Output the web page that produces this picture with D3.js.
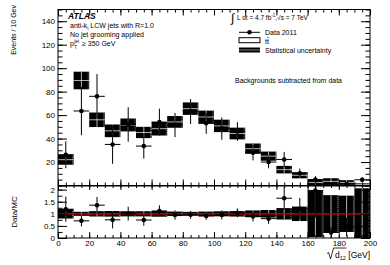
<!DOCTYPE html>
<html><head><meta charset="utf-8">
<script src="https://cdn.jsdelivr.net/npm/d3@7"></script>
<style>
body{margin:0;background:#fff}
svg{display:block}
text{font-family:"Liberation Sans",Arial,Helvetica,sans-serif;fill:#000}
</style>
</head><body>
<svg id="c" width="390" height="265"></svg>
<script>
// ---- data (sqrt(d12) bins, 10 GeV wide) ----
const binLow  = [0,10,20,30,40,50,60,70,80,90,100,110,120,130,140,150,160,170,180,190];
const mc      = [22,89.5,56,46.6,51.6,45.2,48.4,54.2,65.5,58.4,50.8,44.3,31.4,25,13.5,8.7,2.6,3.5,2.6,0.9];
const mcErr   = [4.3,7.5,6.2,5.4,5.5,4.8,5.8,5.0,5.3,5.4,5.3,5.0,4.4,3.9,3.2,2.6,2.5,2.7,1.95,0.95];
const dataVal = [26.2,63.5,76,35,52,33.6,54,51.5,63,53,48.5,46,28,20,22.2,10.5,5.1,0.8,1.2,4.9];
const dataErr = [11.5,20.6,19,16.5,14.7,10.7,11.5,10.3,10.7,9,9.5,8,6.6,5.4,6.4,3.9,2.9,0.8,1.0,2.2];
const binWidth = 10;
const xMajor = [0,20,40,60,80,100,120,140,160,180,200];
const yMajor = [0,20,40,60,80,100,120,140];
const rMajor = [0,0.5,1,1.5,2];

const svg = d3.select('#c');
const X0 = 58, X1 = 370;
const T0 = 9.5, T1 = 185.5;
const R0 = 186, R1 = 238;

const x  = d3.scaleLinear().domain([0,200]).range([X0,X1]);
const y  = d3.scaleLinear().domain([0,150]).range([T1,T0]);
const yr = d3.scaleLinear().domain([0,2.15]).range([R1,R0]);

const bins = binLow.map((lo,i)=>({lo, hi:lo+binWidth, mc:mc[i], me:mcErr[i], d:dataVal[i], de:dataErr[i]}));

const defs = svg.append('defs');
defs.append('clipPath').attr('id','clipT').append('rect').attr('x',X0).attr('y',T0).attr('width',X1-X0).attr('height',T1-T0);
defs.append('clipPath').attr('id','clipR').append('rect').attr('x',X0).attr('y',R0).attr('width',X1-X0).attr('height',R1-R0);

// ---- top panel ----
const gT = svg.append('g').attr('clip-path','url(#clipT)');
gT.selectAll('rect.band').data(bins).join('rect')
  .attr('x',d=>x(d.lo)).attr('width',d=>x(d.hi)-x(d.lo))
  .attr('y',d=>y(d.mc+d.me)).attr('height',d=>y(Math.max(0,d.mc-d.me))-y(d.mc+d.me))
  .attr('fill','#000');
gT.selectAll('line.edge').data(bins).join('line')
  .attr('x1',d=>x(d.hi)-1).attr('x2',d=>x(d.hi)-1)
  .attr('y1',d=>y(d.mc+d.me)).attr('y2',d=>y(Math.max(0,d.mc-d.me)))
  .attr('stroke','#aaa').attr('stroke-width',0.8).attr('stroke-dasharray','1,1');
gT.selectAll('line.mch').data(bins).join('line')
  .attr('x1',d=>x(d.lo)).attr('x2',d=>x(d.hi))
  .attr('y1',d=>y(d.mc)).attr('y2',d=>y(d.mc))
  .attr('stroke','#ddd').attr('stroke-width',0.8);
gT.selectAll('line.mcv').data(bins).join('line')
  .attr('x1',d=>x(d.lo+binWidth/2)).attr('x2',d=>x(d.lo+binWidth/2))
  .attr('y1',d=>y(d.mc+d.me)).attr('y2',d=>y(Math.max(0,d.mc-d.me)))
  .attr('stroke','#ddd').attr('stroke-width',0.8);
// data
gT.selectAll('line.dv').data(bins).join('line')
  .attr('x1',d=>x(d.lo+binWidth/2)).attr('x2',d=>x(d.lo+binWidth/2))
  .attr('y1',d=>y(d.d+d.de)).attr('y2',d=>y(Math.max(0,d.d-d.de)))
  .attr('stroke','#000').attr('stroke-width',1);
gT.selectAll('line.dh').data(bins).join('line')
  .attr('x1',d=>x(d.lo)).attr('x2',d=>x(d.hi))
  .attr('y1',d=>y(d.d)).attr('y2',d=>y(d.d))
  .attr('stroke','#000').attr('stroke-width',1);
gT.selectAll('circle').data(bins).join('circle')
  .attr('cx',d=>x(d.lo+binWidth/2)).attr('cy',d=>y(d.d)).attr('r',2.3).attr('fill','#000');

// ---- ratio panel ----
const gR = svg.append('g').attr('clip-path','url(#clipR)');
gR.selectAll('rect').data(bins).join('rect')
  .attr('x',d=>x(d.lo)).attr('width',d=>x(d.hi)-x(d.lo))
  .attr('y',d=>yr(1+d.me/d.mc)).attr('height',d=>yr(Math.max(0,1-d.me/d.mc))-yr(1+d.me/d.mc))
  .attr('fill','#000');
gR.selectAll('line.mcv').data(bins).join('line')
  .attr('x1',d=>x(d.lo+binWidth/2)).attr('x2',d=>x(d.lo+binWidth/2))
  .attr('y1',d=>yr(1+d.me/d.mc)).attr('y2',d=>yr(Math.max(0,1-d.me/d.mc)))
  .attr('stroke','#ddd').attr('stroke-width',0.8);
gR.selectAll('line.edge').data(bins).join('line')
  .attr('x1',d=>x(d.hi)-1).attr('x2',d=>x(d.hi)-1)
  .attr('y1',d=>yr(1+d.me/d.mc)).attr('y2',d=>yr(Math.max(0,1-d.me/d.mc)))
  .attr('stroke','#aaa').attr('stroke-width',0.8).attr('stroke-dasharray','1,1');
gR.append('line').attr('x1',X0).attr('x2',X1).attr('y1',yr(1)).attr('y2',yr(1))
  .attr('stroke','#e00000').attr('stroke-width',1.2);
gR.selectAll('line.dv').data(bins).join('line')
  .attr('x1',d=>x(d.lo+binWidth/2)).attr('x2',d=>x(d.lo+binWidth/2))
  .attr('y1',d=>yr((d.d+d.de)/d.mc)).attr('y2',d=>yr(Math.max(0,(d.d-d.de)/d.mc)))
  .attr('stroke','#000').attr('stroke-width',1);
gR.selectAll('line.dh').data(bins).join('line')
  .attr('x1',d=>x(d.lo)).attr('x2',d=>x(d.hi))
  .attr('y1',d=>yr(d.d/d.mc)).attr('y2',d=>yr(d.d/d.mc))
  .attr('stroke','#000').attr('stroke-width',1);
gR.selectAll('circle').data(bins).join('circle')
  .attr('cx',d=>x(d.lo+binWidth/2)).attr('cy',d=>yr(d.d/d.mc)).attr('r',2.3).attr('fill','#000');

// ---- axes ----
function styleAxis(g){ g.select('.domain').remove(); g.selectAll('text').attr('font-size',8).attr('font-family','"Liberation Sans",Arial,sans-serif'); g.selectAll('line').attr('stroke','#000'); }
const range = (a,b,s)=>d3.range(a,b+s/2,s);
// top panel
svg.append('g').attr('transform',`translate(${X0},0)`)
  .call(d3.axisLeft(y).tickValues(yMajor).tickSizeInner(-9).tickSizeOuter(0).tickPadding(3).tickFormat(d=>d===0?'':d)).call(styleAxis);
svg.append('g').attr('transform',`translate(${X0},0)`)
  .call(d3.axisLeft(y).tickValues(range(0,150,5)).tickSizeInner(-4.5).tickSizeOuter(0).tickFormat('')).call(styleAxis);
svg.append('g').attr('transform',`translate(${X1},0)`)
  .call(d3.axisRight(y).tickValues(yMajor).tickSizeInner(-9).tickSizeOuter(0).tickFormat('')).call(styleAxis);
svg.append('g').attr('transform',`translate(${X1},0)`)
  .call(d3.axisRight(y).tickValues(range(0,150,5)).tickSizeInner(-4.5).tickSizeOuter(0).tickFormat('')).call(styleAxis);
svg.append('g').attr('transform',`translate(0,${T1})`)
  .call(d3.axisBottom(x).tickValues(xMajor).tickSizeInner(-6).tickSizeOuter(0).tickFormat('')).call(styleAxis);
svg.append('g').attr('transform',`translate(0,${T1})`)
  .call(d3.axisBottom(x).tickValues(range(0,200,5)).tickSizeInner(-3).tickSizeOuter(0).tickFormat('')).call(styleAxis);
svg.append('g').attr('transform',`translate(0,${T0})`)
  .call(d3.axisTop(x).tickValues(xMajor).tickSizeInner(-6).tickSizeOuter(0).tickFormat('')).call(styleAxis);
svg.append('g').attr('transform',`translate(0,${T0})`)
  .call(d3.axisTop(x).tickValues(range(0,200,5)).tickSizeInner(-3).tickSizeOuter(0).tickFormat('')).call(styleAxis);
// ratio panel
svg.append('g').attr('transform',`translate(${X0},0)`)
  .call(d3.axisLeft(yr).tickValues(rMajor).tickSizeInner(-9).tickSizeOuter(0).tickPadding(3).tickFormat(d3.format('~g'))).call(styleAxis);
svg.append('g').attr('transform',`translate(${X0},0)`)
  .call(d3.axisLeft(yr).tickValues(range(0,2,0.25)).tickSizeInner(-4.5).tickSizeOuter(0).tickFormat('')).call(styleAxis);
svg.append('g').attr('transform',`translate(${X1},0)`)
  .call(d3.axisRight(yr).tickValues(rMajor).tickSizeInner(-9).tickSizeOuter(0).tickFormat('')).call(styleAxis);
svg.append('g').attr('transform',`translate(${X1},0)`)
  .call(d3.axisRight(yr).tickValues(range(0,2,0.25)).tickSizeInner(-4.5).tickSizeOuter(0).tickFormat('')).call(styleAxis);
svg.append('g').attr('transform',`translate(0,${R1})`)
  .call(d3.axisBottom(x).tickValues(xMajor).tickSizeInner(-6).tickSizeOuter(0).tickPadding(2).tickFormat(d3.format('d'))).call(styleAxis);
svg.append('g').attr('transform',`translate(0,${R1})`)
  .call(d3.axisBottom(x).tickValues(range(0,200,5)).tickSizeInner(-3).tickSizeOuter(0).tickFormat('')).call(styleAxis);
svg.append('g').attr('transform',`translate(0,${R0})`)
  .call(d3.axisTop(x).tickValues(xMajor).tickSizeInner(-4).tickSizeOuter(0).tickFormat('')).call(styleAxis);
svg.append('g').attr('transform',`translate(0,${R0})`)
  .call(d3.axisTop(x).tickValues(range(0,200,5)).tickSizeInner(-2).tickSizeOuter(0).tickFormat('')).call(styleAxis);

// frames
svg.append('rect').attr('x',X0).attr('y',T0).attr('width',X1-X0).attr('height',T1-T0).attr('fill','none').attr('stroke','#000').attr('stroke-width',1);
svg.append('rect').attr('x',X0).attr('y',R0).attr('width',X1-X0).attr('height',R1-R0).attr('fill','none').attr('stroke','#000').attr('stroke-width',1);

// axis titles
svg.append('text').attr('transform',`translate(16,5) rotate(-90)`).attr('text-anchor','end').attr('font-size',7).text('Events / 10 Gev');
svg.append('text').attr('transform',`translate(17,${(R0+R1)/2}) rotate(-90)`).attr('text-anchor','middle').attr('font-size',8).text('Data/MC');

const xt = svg.append('text').attr('x',X1).attr('y',257.5).attr('text-anchor','end').attr('font-size',8.5);
xt.append('tspan').text('d');
xt.append('tspan').attr('font-size',5.5).attr('dy',2).text('12');
xt.append('tspan').attr('dy',-2).text(' [GeV]');
{
  const bb = xt.node().getBBox();
  const sx = bb.x - 8, base = 257.5;
  const dw = xt.node().getSubStringLength(0,3);
  svg.append('path')
    .attr('d',`M${sx},${base-4} L${sx+1.5},${base-5} L${sx+3.5},${base+1.5} L${sx+6.5},${base-9.5} L${bb.x+dw+0.5},${base-9.5}`)
    .attr('fill','none').attr('stroke','#000').attr('stroke-width',0.8);
}

// ATLAS label block
svg.append('text').attr('x',68).attr('y',18.5).attr('font-size',8.5).attr('font-weight','bold').attr('font-style','italic').text('ATLAS');
const l1 = svg.append('text').attr('x',70).attr('y',28).attr('font-size',7);
l1.append('tspan').text('anti-k');
l1.append('tspan').attr('font-size',4.5).attr('dy',1.8).text('t');
l1.append('tspan').attr('dy',-1.8).text(' LCW jets with R=1.0');
svg.append('text').attr('x',70).attr('y',37).attr('font-size',7).text('No jet grooming applied');
svg.append('text').attr('x',70).attr('y',46).attr('font-size',7).text('p');
svg.append('text').attr('x',74.2).attr('y',43).attr('font-size',4.5).text('jet');
svg.append('text').attr('x',74.2).attr('y',48.8).attr('font-size',4.5).text('T');
svg.append('text').attr('x',82).attr('y',46).attr('font-size',7).text('≥ 350 GeV');

// legend
svg.append('text').attr('x',231).attr('y',22).attr('font-size',12).text('∫');
const lum = svg.append('text').attr('x',237).attr('y',19.5).attr('font-size',6.5);
lum.append('tspan').text('L dt = 4.7 fb');
lum.append('tspan').attr('font-size',4.5).attr('dy',-2.5).text('-1');
lum.append('tspan').attr('dy',2.5).text(',√s = 7 TeV');

const LX0 = 239, LX1 = 260, TX = 265;
svg.append('line').attr('x1',LX0).attr('x2',LX1).attr('y1',32.3).attr('y2',32.3).attr('stroke','#000').attr('stroke-width',1);
svg.append('circle').attr('cx',(LX0+LX1)/2).attr('cy',32.3).attr('r',2.3).attr('fill','#000');
svg.append('text').attr('x',TX).attr('y',35).attr('font-size',7).text('Data 2011');

svg.append('rect').attr('x',LX0).attr('y',37.7).attr('width',LX1-LX0).attr('height',5).attr('fill','#fff').attr('stroke','#000').attr('stroke-width',1);
const tt = svg.append('text').attr('x',TX).attr('y',44).attr('font-size',7).text('tt');
{
  const w1 = tt.node().getSubStringLength(0,1), w2 = tt.node().getSubStringLength(1,1);
  svg.append('line').attr('x1',TX+w1+0.2).attr('x2',TX+w1+w2).attr('y1',37.6).attr('y2',37.6).attr('stroke','#000').attr('stroke-width',0.6);
}
svg.append('rect').attr('x',LX0).attr('y',47.5).attr('width',LX1-LX0).attr('height',5).attr('fill','#000');
svg.append('line').attr('x1',LX0).attr('x2',LX1).attr('y1',50).attr('y2',50).attr('stroke','#ddd').attr('stroke-width',0.6);
svg.append('text').attr('x',TX).attr('y',53).attr('font-size',7).text('Statistical uncertainty');

svg.append('text').attr('x',235).attr('y',82.5).attr('font-size',7).text('Backgrounds subtracted from data');
</script>
</body></html>
